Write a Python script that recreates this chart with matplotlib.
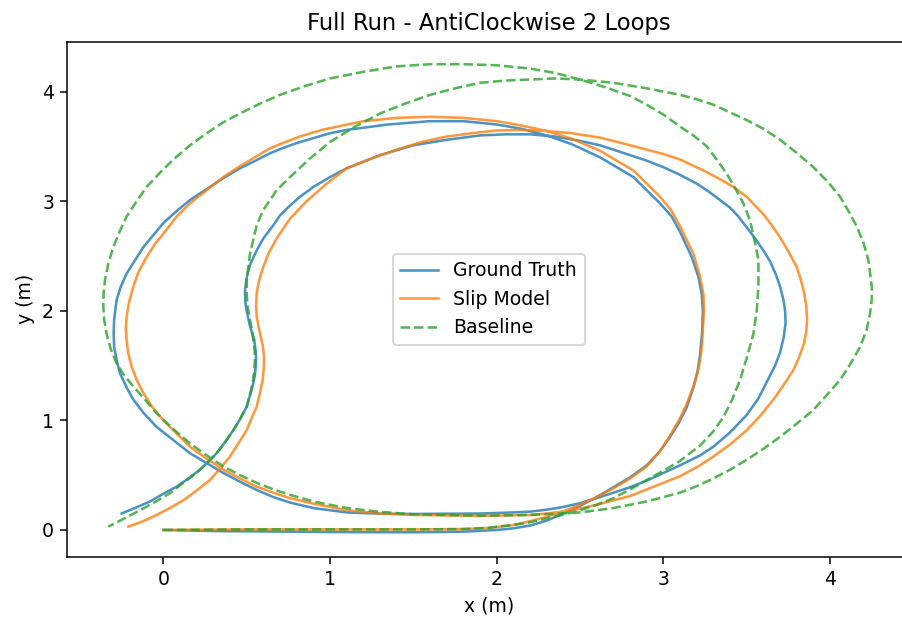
import matplotlib
matplotlib.use("Agg")
import matplotlib.pyplot as plt

# Ground Truth path (x, y) in metres, in driving order
gt_x = [0.00, 0.30, 0.70, 1.10, 1.50, 1.80, 2.00, 2.10, 2.20, 2.30, 2.40, 2.50, 2.60, 2.70, 2.80, 2.90, 2.98, 3.04, 3.09, 3.14, 3.18, 3.205, 3.22, 3.232, 3.237, 3.23, 3.21, 3.17, 3.10, 3.05, 2.98, 2.90, 2.82, 2.72, 2.62, 2.45, 2.30, 2.15, 2.00, 1.80, 1.60, 1.35, 1.10, 1.00, 0.90, 0.80, 0.70, 0.63, 0.56, 0.46, 0.36, 0.26, 0.16, 0.08, 0.00, -0.06, -0.12, -0.17, -0.22, -0.255, -0.28, -0.295, -0.298, -0.295, -0.28, -0.26, -0.22, -0.18, -0.12, -0.04, 0.06, 0.16, 0.26, 0.36, 0.46, 0.56, 0.66, 0.76, 0.90, 1.10, 1.30, 1.50, 1.90, 2.10, 2.20, 2.30, 2.40, 2.50, 2.60, 2.70, 2.80, 2.90, 3.00, 3.10, 3.22, 3.30, 3.40, 3.50, 3.57, 3.62, 3.67, 3.70, 3.722, 3.733, 3.73, 3.72, 3.70, 3.675, 3.64, 3.60, 3.55, 3.50, 3.45, 3.40, 3.34, 3.27, 3.20, 3.10, 3.00, 2.90, 2.80, 2.62, 2.50, 2.35, 2.20, 2.05, 1.90, 1.70, 1.50, 1.30, 1.10, 1.00, 0.90, 0.82, 0.76, 0.70, 0.66, 0.60, 0.56, 0.52, 0.50, 0.49, 0.492, 0.50, 0.52, 0.545, 0.555, 0.556, 0.55, 0.54, 0.52, 0.50, 0.46, 0.42, 0.37, 0.32, 0.27, 0.22, 0.15, 0.08, 0.00, -0.08, -0.17, -0.25]
gt_y = [0.00, -0.01, -0.015, -0.02, -0.021, -0.016, 0.00, 0.015, 0.04, 0.085, 0.15, 0.22, 0.30, 0.39, 0.48, 0.59, 0.72, 0.85, 0.97, 1.12, 1.30, 1.45, 1.60, 1.80, 2.00, 2.15, 2.31, 2.49, 2.72, 2.86, 2.98, 3.10, 3.22, 3.31, 3.40, 3.52, 3.60, 3.66, 3.70, 3.73, 3.73, 3.70, 3.65, 3.62, 3.575, 3.53, 3.475, 3.43, 3.375, 3.30, 3.21, 3.11, 3.01, 2.91, 2.80, 2.69, 2.58, 2.46, 2.34, 2.22, 2.10, 1.92, 1.80, 1.67, 1.55, 1.43, 1.30, 1.19, 1.07, 0.94, 0.82, 0.70, 0.61, 0.52, 0.44, 0.365, 0.30, 0.25, 0.20, 0.16, 0.148, 0.146, 0.15, 0.16, 0.167, 0.185, 0.21, 0.245, 0.29, 0.34, 0.39, 0.45, 0.52, 0.59, 0.68, 0.76, 0.89, 1.05, 1.20, 1.35, 1.50, 1.62, 1.76, 1.89, 2.00, 2.10, 2.22, 2.33, 2.45, 2.55, 2.66, 2.76, 2.86, 2.94, 3.01, 3.09, 3.16, 3.24, 3.31, 3.37, 3.42, 3.51, 3.55, 3.59, 3.61, 3.61, 3.60, 3.56, 3.51, 3.42, 3.30, 3.22, 3.13, 3.04, 2.96, 2.87, 2.78, 2.66, 2.55, 2.42, 2.30, 2.19, 2.08, 2.00, 1.86, 1.74, 1.62, 1.52, 1.42, 1.34, 1.23, 1.125, 1.01, 0.91, 0.80, 0.70, 0.62, 0.55, 0.47, 0.395, 0.33, 0.26, 0.20, 0.15]

# Slip Model path
sm_x = [0.00, 0.50, 1.00, 1.50, 1.80, 1.95, 2.10, 2.20, 2.30, 2.40, 2.50, 2.60, 2.70, 2.80, 2.90, 2.98, 3.04, 3.10, 3.14, 3.18, 3.205, 3.22, 3.232, 3.238, 3.243, 3.24, 3.22, 3.18, 3.10, 3.05, 2.98, 2.90, 2.82, 2.72, 2.62, 2.45, 2.30, 2.15, 2.00, 1.80, 1.60, 1.40, 1.20, 0.95, 0.82, 0.70, 0.63, 0.56, 0.46, 0.36, 0.26, 0.16, 0.08, 0.02, -0.05, -0.10, -0.15, -0.18, -0.205, -0.22, -0.225, -0.22, -0.21, -0.19, -0.16, -0.12, -0.065, 0.00, 0.08, 0.16, 0.26, 0.36, 0.46, 0.56, 0.66, 0.76, 0.90, 1.10, 1.30, 1.50, 1.90, 2.20, 2.30, 2.40, 2.50, 2.60, 2.70, 2.80, 2.90, 3.00, 3.10, 3.22, 3.30, 3.40, 3.50, 3.58, 3.66, 3.72, 3.78, 3.815, 3.843, 3.857, 3.862, 3.857, 3.845, 3.825, 3.80, 3.75, 3.70, 3.65, 3.60, 3.50, 3.42, 3.34, 3.24, 3.10, 3.00, 2.90, 2.75, 2.62, 2.45, 2.30, 2.15, 2.00, 1.85, 1.70, 1.55, 1.40, 1.25, 1.10, 0.98, 0.86, 0.76, 0.68, 0.63, 0.60, 0.575, 0.56, 0.557, 0.56, 0.572, 0.585, 0.598, 0.604, 0.603, 0.596, 0.58, 0.56, 0.53, 0.50, 0.45, 0.40, 0.34, 0.28, 0.20, 0.12, 0.04, -0.04, -0.12, -0.21]
sm_y = [0.00, 0.005, 0.005, 0.005, 0.008, 0.018, 0.045, 0.08, 0.12, 0.17, 0.23, 0.30, 0.38, 0.47, 0.58, 0.72, 0.86, 1.02, 1.15, 1.31, 1.43, 1.55, 1.70, 1.855, 2.00, 2.15, 2.31, 2.52, 2.77, 2.91, 3.04, 3.16, 3.28, 3.37, 3.46, 3.57, 3.64, 3.69, 3.73, 3.76, 3.77, 3.76, 3.73, 3.65, 3.59, 3.52, 3.475, 3.41, 3.32, 3.22, 3.10, 2.98, 2.86, 2.74, 2.61, 2.49, 2.35, 2.22, 2.08, 1.95, 1.84, 1.73, 1.61, 1.49, 1.37, 1.25, 1.12, 1.00, 0.88, 0.76, 0.65, 0.55, 0.47, 0.395, 0.34, 0.29, 0.24, 0.18, 0.15, 0.137, 0.128, 0.137, 0.15, 0.167, 0.195, 0.23, 0.27, 0.31, 0.37, 0.43, 0.49, 0.59, 0.67, 0.78, 0.91, 1.04, 1.19, 1.32, 1.46, 1.58, 1.70, 1.81, 1.92, 2.04, 2.16, 2.28, 2.40, 2.54, 2.67, 2.78, 2.88, 3.04, 3.13, 3.20, 3.28, 3.38, 3.43, 3.47, 3.53, 3.58, 3.62, 3.64, 3.65, 3.645, 3.62, 3.59, 3.54, 3.47, 3.39, 3.30, 3.16, 3.00, 2.84, 2.66, 2.52, 2.40, 2.28, 2.16, 2.05, 1.95, 1.85, 1.76, 1.67, 1.58, 1.48, 1.37, 1.25, 1.125, 1.02, 0.91, 0.79, 0.67, 0.56, 0.456, 0.36, 0.27, 0.20, 0.137, 0.08, 0.03]

# Baseline path
bl_x = [0.00, 0.50, 1.00, 1.50, 1.80, 1.95, 2.10, 2.20, 2.30, 2.40, 2.50, 2.60, 2.70, 2.80, 2.90, 3.00, 3.10, 3.22, 3.30, 3.36, 3.41, 3.46, 3.50, 3.54, 3.56, 3.57, 3.57, 3.55, 3.52, 3.48, 3.43, 3.38, 3.32, 3.26, 3.18, 3.10, 3.00, 2.90, 2.80, 2.65, 2.50, 2.35, 2.20, 2.00, 1.80, 1.60, 1.40, 1.20, 1.00, 0.85, 0.70, 0.58, 0.46, 0.36, 0.26, 0.16, 0.06, -0.02, -0.10, -0.16, -0.22, -0.26, -0.30, -0.33, -0.35, -0.358, -0.36, -0.355, -0.34, -0.315, -0.28, -0.235, -0.18, -0.11, -0.04, 0.06, 0.16, 0.26, 0.36, 0.46, 0.56, 0.66, 0.76, 0.90, 1.10, 1.30, 1.50, 1.90, 2.20, 2.50, 2.60, 2.70, 2.80, 2.90, 3.00, 3.10, 3.20, 3.30, 3.40, 3.50, 3.60, 3.70, 3.80, 3.90, 3.98, 4.06, 4.12, 4.18, 4.22, 4.24, 4.25, 4.25, 4.24, 4.23, 4.20, 4.16, 4.11, 4.06, 3.99, 3.90, 3.80, 3.70, 3.60, 3.50, 3.40, 3.30, 3.20, 3.10, 2.90, 2.70, 2.50, 2.35, 2.20, 2.05, 1.90, 1.75, 1.60, 1.45, 1.30, 1.15, 1.00, 0.88, 0.76, 0.68, 0.60, 0.56, 0.54, 0.52, 0.51, 0.50, 0.50, 0.505, 0.516, 0.53, 0.54, 0.548, 0.55, 0.545, 0.536, 0.52, 0.50, 0.46, 0.42, 0.37, 0.32, 0.26, 0.20, 0.12, 0.04, -0.05, -0.14, -0.24, -0.33]
bl_y = [0.00, 0.005, 0.005, 0.005, 0.008, 0.02, 0.046, 0.07, 0.107, 0.14, 0.18, 0.23, 0.29, 0.37, 0.456, 0.54, 0.63, 0.77, 0.90, 1.03, 1.18, 1.37, 1.57, 1.79, 2.00, 2.22, 2.46, 2.62, 2.82, 2.98, 3.12, 3.25, 3.38, 3.50, 3.60, 3.68, 3.79, 3.88, 3.96, 4.04, 4.11, 4.17, 4.21, 4.24, 4.25, 4.25, 4.23, 4.18, 4.12, 4.05, 3.97, 3.89, 3.80, 3.72, 3.62, 3.51, 3.38, 3.26, 3.13, 3.00, 2.86, 2.73, 2.58, 2.43, 2.28, 2.16, 2.04, 1.92, 1.79, 1.65, 1.52, 1.41, 1.31, 1.19, 1.065, 0.92, 0.79, 0.68, 0.58, 0.50, 0.43, 0.37, 0.32, 0.26, 0.20, 0.165, 0.143, 0.13, 0.137, 0.16, 0.18, 0.20, 0.23, 0.26, 0.30, 0.34, 0.40, 0.47, 0.55, 0.64, 0.74, 0.85, 0.97, 1.095, 1.23, 1.37, 1.51, 1.67, 1.83, 1.98, 2.10, 2.22, 2.34, 2.46, 2.62, 2.77, 2.91, 3.04, 3.17, 3.31, 3.44, 3.56, 3.66, 3.74, 3.81, 3.88, 3.93, 3.97, 4.03, 4.08, 4.11, 4.12, 4.11, 4.10, 4.08, 4.03, 3.97, 3.89, 3.80, 3.68, 3.54, 3.39, 3.22, 3.10, 2.92, 2.78, 2.65, 2.52, 2.40, 2.28, 2.16, 2.05, 1.95, 1.84, 1.73, 1.64, 1.55, 1.44, 1.34, 1.23, 1.125, 1.01, 0.91, 0.80, 0.70, 0.61, 0.52, 0.43, 0.335, 0.255, 0.18, 0.10, 0.03]

series_labels = ["Ground Truth", "Slip Model", "Baseline"]
x_ticks = [0, 1, 2, 3, 4]
y_ticks = [0, 1, 2, 3, 4]

DPI = 136
fig = plt.figure(figsize=(902 / DPI, 618 / DPI), dpi=DPI)
# the axes box reaches just past the right edge (the reference is cropped there)
ax = fig.add_axes([0.0746, 0.0992, 0.9344, 0.8333])
ax.spines["right"].set_visible(False)

ax.plot(gt_x, gt_y, color="tab:blue", alpha=0.8, lw=1.35, label=series_labels[0])
ax.plot(sm_x, sm_y, color="tab:orange", alpha=0.8, lw=1.35, label=series_labels[1])
ax.plot(bl_x, bl_y, color="tab:green", alpha=0.8, lw=1.35, ls="--", label=series_labels[2])

ax.set_xlim(-0.576, 4.48)
ax.set_ylim(-0.244, 4.455)
ax.set_xticks(x_ticks)
ax.set_yticks(y_ticks)
ax.set_xlabel("x (m)")
ax.set_ylabel("y (m)")
ax.set_title("Full Run - AntiClockwise 2 Loops")
ax.legend(loc="center")

fig.savefig("out.png", dpi=DPI)
